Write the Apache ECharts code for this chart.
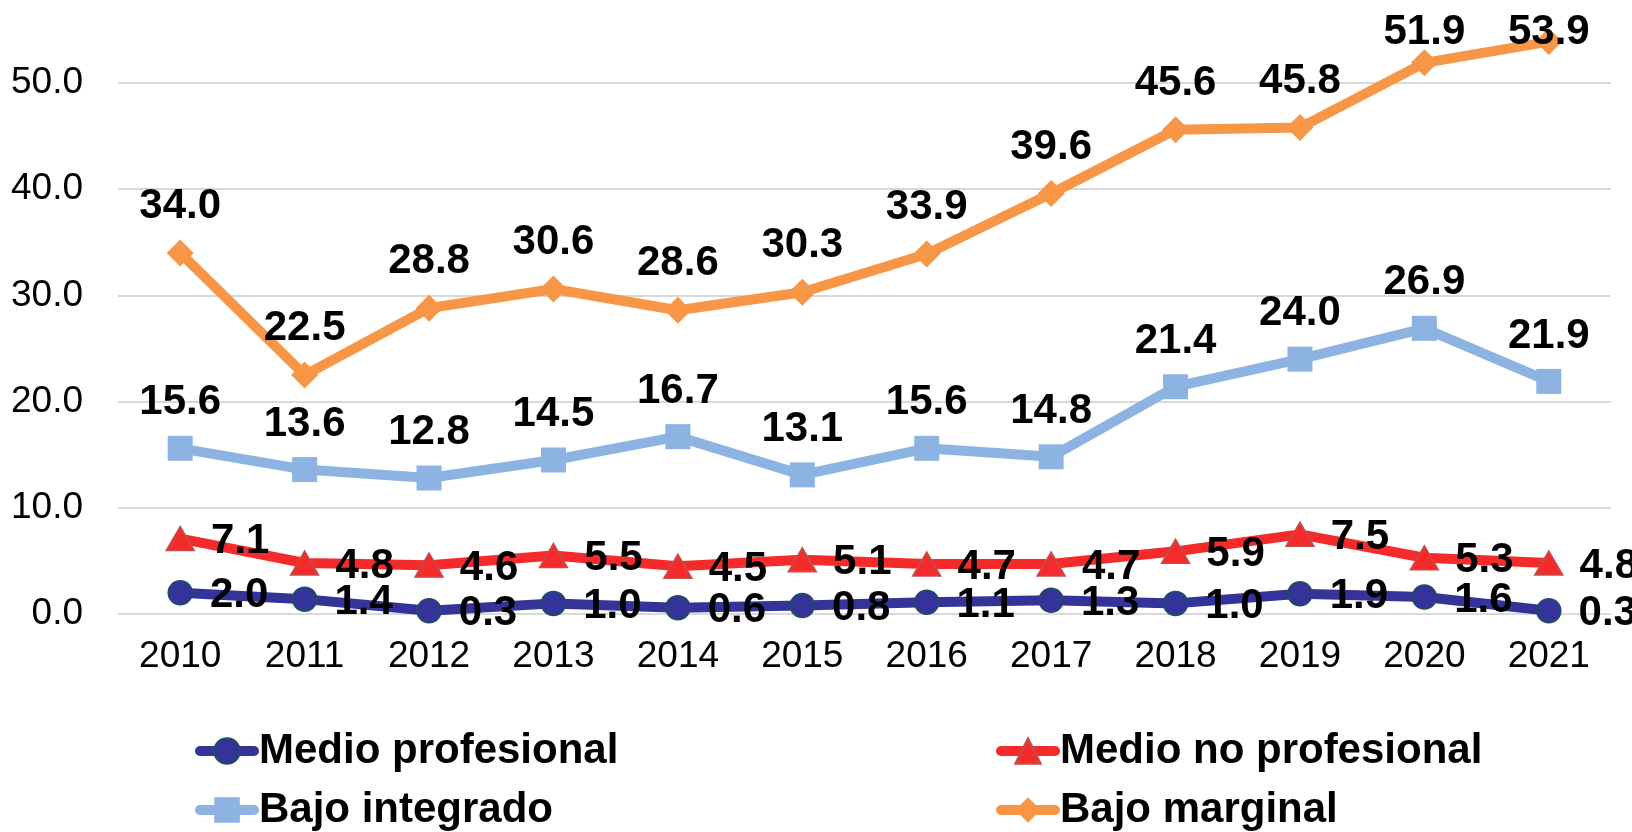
<!DOCTYPE html>
<html>
<head>
<meta charset="utf-8">
<script src="https://cdn.jsdelivr.net/npm/echarts@6/dist/echarts.min.js"></script>
<style>
html,body{margin:0;padding:0;background:#ffffff;}
#chart{width:1632px;height:832px;}
</style>
</head>
<body>
<div id="chart"></div>
<script>
const years = ['2010','2011','2012','2013','2014','2015','2016','2017','2018','2019','2020','2021'];
const medioProfesional   = [2.0, 1.4, 0.3, 1.0, 0.6, 0.8, 1.1, 1.3, 1.0, 1.9, 1.6, 0.3];
const medioNoProfesional = [7.1, 4.8, 4.6, 5.5, 4.5, 5.1, 4.7, 4.7, 5.9, 7.5, 5.3, 4.8];
const bajoIntegrado      = [15.6, 13.6, 12.8, 14.5, 16.7, 13.1, 15.6, 14.8, 21.4, 24.0, 26.9, 21.9];
const bajoMarginal       = [34.0, 22.5, 28.8, 30.6, 28.6, 30.3, 33.9, 39.6, 45.6, 45.8, 51.9, 53.9];
const seriesNames = ['Medio profesional', 'Medio no profesional', 'Bajo integrado', 'Bajo marginal'];

const FONT = '"Liberation Sans", Arial, sans-serif';
const labelBase = {
  show: true,
  fontFamily: FONT,
  fontSize: 42,
  fontWeight: 'bold',
  color: '#000000',
  formatter: p => Number(p.value).toFixed(1)
};
// keep labels inside the picture, as the original does for the top values
const keepInside = p => ({dy: Math.max(0, 11 - p.labelRect.y)});

const legendText = {fontFamily: FONT, fontSize: 42, fontWeight: 'bold', color: '#000000'};

const chart = echarts.init(document.getElementById('chart'), null, {renderer: 'canvas'});
chart.setOption({
  animation: false,
  backgroundColor: '#ffffff',
  grid: {left: 118, right: 21, top: 83, bottom: 218, containLabel: false},
  legend: [
    {
      data: [seriesNames[0], seriesNames[2]],
      orient: 'vertical',
      left: 195, top: 730,
      padding: 0,
      itemGap: 17,
      itemWidth: 54, itemHeight: 32,
      lineStyle: {width: 10, cap: 'round'},
      textStyle: legendText
    },
    {
      data: [seriesNames[1], seriesNames[3]],
      orient: 'vertical',
      left: 996, top: 730,
      padding: 0,
      itemGap: 17,
      itemWidth: 54, itemHeight: 32,
      lineStyle: {width: 10, cap: 'round'},
      textStyle: legendText
    }
  ],
  xAxis: {
    type: 'category',
    data: years,
    boundaryGap: true,
    axisLine: {show: false},
    axisTick: {show: false},
    axisLabel: {fontFamily: FONT, fontSize: 37, color: '#000000', margin: 24}
  },
  yAxis: {
    type: 'value',
    min: 0, max: 50, interval: 10,
    axisLine: {show: false},
    axisTick: {show: false},
    axisLabel: {fontFamily: FONT, fontSize: 37, color: '#000000', margin: 35,
      formatter: v => v.toFixed(1)},
    splitLine: {lineStyle: {color: '#D9D9D9', width: 2}}
  },
  series: [
    {
      name: seriesNames[0], type: 'line', data: medioProfesional, clip: false,
      symbol: 'circle', symbolSize: 24,
      lineStyle: {color: '#333399', width: 10},
      itemStyle: {color: '#333399', borderColor: '#1F4E5F', borderWidth: 1.5},
      label: Object.assign({}, labelBase, {position: 'right', distance: 17, offset: [0, 3]}),
      z: 4
    },
    {
      name: seriesNames[1], type: 'line', data: medioNoProfesional, clip: false,
      symbol: 'triangle', symbolSize: [28, 24],
      lineStyle: {color: '#F52A2A', width: 10},
      itemStyle: {color: '#F52A2A', borderColor: '#C0504D', borderWidth: 1.5},
      label: Object.assign({}, labelBase, {position: 'right', distance: 16, offset: [0, 3]}),
      z: 3
    },
    {
      name: seriesNames[2], type: 'line', data: bajoIntegrado, clip: false,
      symbol: 'rect', symbolSize: 25,
      lineStyle: {color: '#8DB3E2', width: 10},
      itemStyle: {color: '#8DB3E2'},
      label: Object.assign({}, labelBase, {position: 'top', distance: 12}),
      labelLayout: keepInside,
      z: 2
    },
    {
      name: seriesNames[3], type: 'line', data: bajoMarginal, clip: false,
      symbol: 'diamond', symbolSize: 27,
      lineStyle: {color: '#F79646', width: 10},
      itemStyle: {color: '#F79646'},
      label: Object.assign({}, labelBase, {position: 'top', distance: 12}),
      labelLayout: keepInside,
      z: 2
    }
  ]
});
</script>
</body>
</html>
